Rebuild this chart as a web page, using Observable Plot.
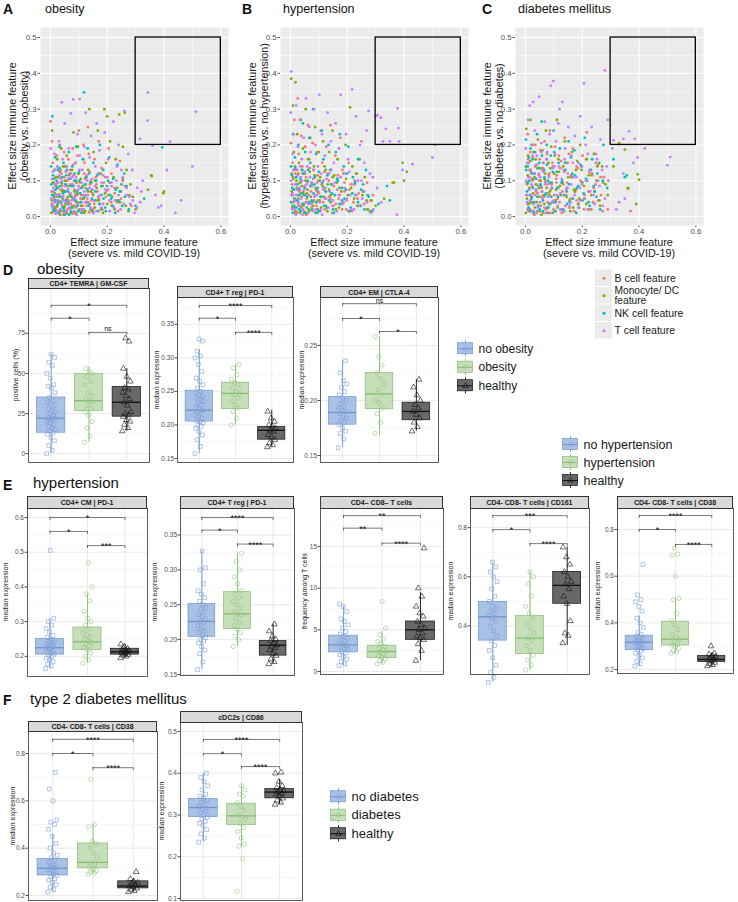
<!DOCTYPE html>
<html><head><meta charset="utf-8">
<script src="https://cdn.jsdelivr.net/npm/d3@7"></script>
<script src="https://cdn.jsdelivr.net/npm/@observablehq/plot@0.6"></script>
<style>
body{margin:0;background:#fff;font-family:"Liberation Sans",Arial,Helvetica,sans-serif;color:#111}
#root{position:relative;width:738px;height:902px;overflow:hidden;background:#fff}
.strip{position:absolute;background:#D9D9D9;border:0.8px solid #333;box-sizing:border-box;font-weight:bold;font-size:7px;text-align:center;color:#1a1a1a;white-space:nowrap;overflow:hidden}
.rot{position:absolute;transform:translate(-50%,-50%) rotate(-90deg);white-space:nowrap;text-align:center}
</style></head>
<body><div id="root"></div>
<script>
// ---------------- scatter data (thousandths: "x,y") ----------------
const featureLabels = ["B cell feature", "Monocyte/ DC", "NK cell feature", "T cell feature"];
const featureLabels2 = ["", "feature", "", ""];
const featureColors = ["#F8766D", "#7CAE00", "#00BFC4", "#C77CFF"];
const scatterXTicks = [0, 0.2, 0.4, 0.6];
const scatterYTicks = [0, 0.1, 0.2, 0.3, 0.4, 0.5];
const focusRegion = [{x1: 0.3, x2: 0.6, y1: 0.2, y2: 0.5}];

const obesityB = "0,266 5,210 8,150 12,95 15,40 18,20 22,170 25,110 28,60 30,15 33,200 36,130 40,75 42,30 45,5 48,180 52,140 55,90 58,50 60,20 63,160 66,115 70,65 72,35 75,10 78,190 80,145 83,100 86,55 90,25 92,5 95,170 98,120 100,240 103,328 106,80 110,40 113,15 116,200 120,150 122,105 125,60 128,30 132,250 135,175 138,125 140,90 145,45 150,20 155,160 160,110 165,70 170,210 175,35 180,135 188,95 195,55 205,190 215,120 225,80 235,40 245,155 255,100 270,60 285,30";
const obesityB2 = "4,35 7,12 10,70 13,48 16,88 19,8 21,55 24,28 27,95 31,62 34,42 37,18 39,120 41,85 44,58 46,25 49,110 51,70 53,38 56,12 59,100 62,75 64,45 67,22 69,130 71,90 73,55 77,30 79,8 82,115 85,75 88,42 91,100 94,60 97,35 100,15 104,95 109,60 114,30 119,120 124,80 130,50 136,12 142,100 148,65 154,35 162,90 171,50 182,20 193,110 203,75 214,40 226,65 238,15 249,50 262,85";
const obesityM = "3,10 6,240 9,60 14,130 17,25 20,85 24,160 27,40 31,110 34,5 38,190 41,70 44,140 47,15 51,100 54,35 57,170 62,55 67,120 71,10 76,85 81,235 85,30 89,150 93,65 97,195 102,20 107,105 111,50 115,160 119,10 124,90 129,40 133,130 137,300 142,70 147,15 152,180 157,100 162,45 167,240 172,120 178,20 184,85 190,300 196,150 200,280 204,60 210,210 216,30 222,110 230,160 236,45 242,285 248,70 255,195 262,290 268,130 275,15 282,90 290,55 300,20 344,75 357,113 355,115 397,65 400,70";
const obesityM2 = "5,45 8,95 11,20 16,65 19,110 23,30 26,80 29,55 33,125 36,15 40,92 43,50 46,72 50,28 53,140 57,8 60,85 63,40 66,105 69,60 73,25 76,130 80,48 84,70 88,10 92,95 95,40 99,120 103,65 108,30 113,85 117,50 122,15 127,110 132,70 138,35 144,95 150,60 156,25 163,80 170,45 177,120 185,10 192,65 200,35 208,95 217,55 226,20 235,80 245,40 255,105 265,30 278,60";
const obesityN = "2,140 5,60 7,280 10,20 13,105 16,165 19,45 23,80 26,130 29,10 32,195 35,55 39,95 43,25 46,150 50,5 53,70 56,115 61,35 65,180 69,85 73,15 77,140 82,50 87,100 91,195 96,30 101,125 105,65 109,10 114,160 118,347 121,90 126,40 131,190 136,120 141,20 146,75 151,150 156,45 161,100 168,15 174,200 180,60 186,130 193,25 199,85 207,165 214,50 221,105 228,10 236,145 244,70 252,30 260,120 268,85 276,20 300,30 330,50 394,193";
const obesityN2 = "3,90 6,30 9,115 12,55 15,15 18,75 22,100 25,35 28,60 31,135 34,85 38,40 42,110 45,65 48,20 52,90 55,45 58,130 62,70 66,5 70,105 74,55 78,25 81,85 85,120 89,45 93,70 97,15 102,100 106,40 111,80 116,20 120,55 125,110 130,75 135,30 140,95 146,50 152,10 158,70 165,115 172,35 179,85 187,50 195,15 203,100 211,60 220,30 230,75 240,45 250,90 262,55";
const obesityT = "1,190 4,70 8,125 11,30 14,175 17,90 21,10 24,140 27,60 30,210 34,20 37,105 40,319 43,160 47,45 50,260 54,125 57,15 61,75 64,190 68,35 72,288 76,110 80,327 84,50 88,150 91,5 95,230 99,85 103,170 108,20 112,130 116,60 120,195 124,290 129,100 133,40 138,165 143,225 148,75 152,10 158,140 163,260 168,55 173,185 179,25 185,115 191,235 197,70 203,160 209,15 215,95 222,265 228,45 234,140 240,200 247,20 254,110 260,295 267,60 274,175 281,35 288,130 296,10 305,80 315,217 316,40 325,100 342,268 343,347 359,198 370,60 380,25 390,30 410,130 421,209 440,10 460,45 500,140 512,293";
const obesityT2 = "2,50 5,105 8,25 10,80 13,40 16,130 19,60 22,92 25,15 28,45 31,115 35,75 38,35 41,98 45,55 48,10 52,85 55,40 58,140 62,105 65,25 69,65 72,120 75,45 79,90 83,15 86,60 90,110 94,35 98,75 102,130 106,50 110,95 115,20 119,70 123,40 128,115 132,60 137,80 142,25 147,105 152,45 157,85 163,15 168,120 174,60 180,95 186,35 193,75 200,110 207,45 215,85 223,25 232,100 240,60 250,130 258,35 268,80 278,55 290,45 305,25 320,70";

const hyperB = "2,205 5,90 8,150 11,40 14,270 17,120 20,60 23,10 26,330 29,175 32,95 35,30 38,225 42,140 45,70 48,15 52,195 55,110 58,50 62,255 66,160 70,85 74,25 78,205 82,130 86,60 90,10 94,180 98,100 103,45 107,240 112,150 116,75 121,20 126,195 131,120 136,55 141,255 146,90 152,30 158,170 164,105 170,50 176,220 183,130 190,70 197,20 205,150 213,90 222,40 231,120 240,65 250,210 260,35 270,95 282,45 290,60";
const hyperB2 = "3,60 6,25 9,110 12,75 15,10 18,45 21,90 24,130 27,35 31,70 34,15 37,100 40,55 43,120 46,30 50,85 53,60 56,5 60,95 64,40 68,135 72,70 76,20 80,105 84,45 88,80 92,30 96,115 100,65 105,15 110,90 115,40 120,125 125,70 130,25 135,100 141,50 147,10 153,85 160,35 167,115 174,60 182,20 190,95 198,45 207,75 216,15 226,100 236,50 247,30 258,70 270,20";
const hyperM = "3,385 4,120 7,60 9,310 12,180 15,25 18,375 21,100 24,230 27,50 30,150 34,10 37,270 40,85 44,190 47,35 51,120 54,300 58,65 62,160 66,15 70,220 74,95 78,40 83,140 87,250 91,75 96,20 100,180 105,110 110,55 115,210 120,140 125,30 131,90 136,180 142,60 148,240 154,115 160,20 166,160 173,80 180,35 187,120 194,200 202,60 210,305 218,140 226,90 235,30 244,160 253,60 262,110 272,20 285,45 300,30 330,50 360,95 365,95 395,150 400,100 410,125";
const hyperM2 = "4,70 7,30 10,105 13,50 16,140 19,15 22,80 25,45 28,120 32,60 35,95 38,25 42,130 45,65 49,10 53,100 56,40 60,75 64,20 68,125 72,55 76,90 80,30 85,115 89,10 94,70 98,45 103,100 108,25 113,85 118,55 124,130 130,15 136,75 142,40 149,110 156,60 163,95 171,25 179,70 187,40 196,105 205,15 214,80 224,50 234,120 245,30 256,70 268,45 280,15";
const hyperN = "2,140 6,80 9,230 13,30 16,165 20,110 24,45 28,200 32,75 36,15 40,130 44,260 48,60 52,180 57,25 61,100 66,220 70,150 75,45 80,300 85,90 90,175 95,10 100,125 105,55 111,240 116,160 122,80 128,25 134,200 140,130 146,65 153,10 160,180 167,100 174,230 181,45 188,140 196,75 204,195 212,25 220,110 229,60 238,160 247,30 256,90 266,130 276,55 288,15 310,35 340,85 350,45";
const hyperN2 = "2,40 5,115 8,10 11,75 14,50 17,135 21,25 25,90 28,60 31,20 35,105 38,65 42,35 46,120 50,80 54,10 58,55 62,130 67,40 71,85 76,20 81,65 86,110 91,40 96,80 101,15 107,55 112,95 118,30 124,70 130,115 136,45 143,90 150,20 157,60 165,105 173,35 181,80 190,50 199,120 208,15 218,65 228,95 238,40 249,75 260,20 272,60";
const hyperT = "1,290 3,405 5,60 8,175 11,230 14,20 17,130 20,310 23,75 26,195 29,40 33,270 36,110 40,160 43,5 47,220 51,85 55,330 59,140 63,35 67,250 71,180 75,95 80,15 84,300 88,200 93,60 97,140 102,340 107,20 111,230 116,100 121,170 126,50 131,290 137,120 142,210 148,30 153,150 159,260 165,75 171,190 177,340 183,40 190,120 196,230 203,160 210,60 217,355 224,20 231,280 238,100 245,200 253,50 260,150 268,240 275,295 283,10 290,110 300,280 306,283 318,276 326,210 336,245 350,210 375,5 377,302 380,247 383,210 395,130 430,146 500,165 510,200";
const hyperT2 = "2,100 5,20 8,65 10,130 13,45 16,90 19,5 22,60 25,115 28,30 31,80 34,140 37,50 41,100 44,20 48,75 51,125 55,40 58,90 62,10 65,60 69,110 73,35 77,85 81,130 85,55 89,20 94,95 98,70 103,40 108,120 112,5 117,80 122,50 127,105 133,25 138,70 144,130 150,45 156,95 163,15 170,60 177,110 184,35 191,80 199,50 207,125 215,20 223,90 232,60 241,30 250,100 260,70 270,40 280,120 292,20 305,80 320,40";

const diabB = "2,140 5,60 8,230 11,15 14,110 17,180 20,40 23,85 26,165 29,120 32,5 35,200 38,70 41,145 45,30 48,100 52,185 55,55 59,130 63,10 67,210 70,90 74,160 78,40 82,115 86,240 90,75 95,150 99,20 104,195 108,105 113,50 118,170 123,135 128,10 133,90 138,220 143,60 149,150 155,25 161,115 167,190 173,70 180,140 187,35 194,100 201,170 208,60 216,235 224,125 232,20 240,80 248,150 256,45 264,110 272,15 290,20 370,15";
const diabB2 = "4,95 7,35 10,160 13,75 16,20 19,125 22,55 25,100 28,180 31,40 34,140 37,90 40,10 43,65 47,115 50,160 54,30 57,80 61,135 65,55 69,100 72,20 76,175 80,65 84,120 88,35 92,90 97,140 101,60 106,15 110,115 115,80 120,40 125,155 130,70 136,125 141,30 147,95 153,175 159,50 165,110 171,15 178,75 185,135 192,45 199,95 206,20 214,160 222,70 230,120 238,40 247,90 256,145 266,60 276,110";
const diabM = "1,10 3,245 6,90 9,170 12,35 15,130 18,270 22,55 25,200 28,15 32,110 36,160 40,40 44,215 48,80 52,135 56,5 60,185 64,60 68,105 72,240 77,25 81,150 86,70 91,195 96,10 101,120 106,45 111,270 116,160 121,85 127,20 133,140 139,210 145,55 151,110 158,15 164,180 171,75 178,130 185,35 193,200 200,95 208,50 216,160 225,20 234,115 243,70 253,140 263,30 274,95 290,60 310,140 330,205 350,187 360,80 362,78 390,35 395,118 400,103";
const diabM2 = "2,140 5,50 8,115 11,20 14,80 17,155 21,40 24,105 27,65 30,180 34,25 38,90 42,135 46,55 50,15 54,100 58,70 62,150 66,35 70,120 75,80 79,10 84,60 88,135 93,95 98,40 103,170 108,75 113,25 118,125 124,60 130,95 136,15 142,150 148,80 155,45 161,110 168,25 175,70 182,155 190,50 198,130 206,85 214,35 223,115 232,60 241,175 250,100 260,45 270,140 282,90";
const diabN = "2,215 5,70 8,140 11,25 14,100 18,190 21,50 25,160 29,10 33,120 37,75 41,230 45,30 49,150 53,90 57,265 61,15 66,130 70,60 75,200 79,100 84,35 89,170 94,80 99,240 104,15 110,125 115,55 121,190 127,95 133,20 139,150 145,70 152,210 158,40 165,120 172,185 179,10 186,85 194,145 201,45 209,220 217,100 226,30 235,160 244,70 253,120 263,20 275,200 288,80 310,160 350,110 357,115";
const diabN2 = "3,130 6,40 9,95 12,165 15,60 18,15 22,120 26,80 30,40 34,180 38,105 42,55 46,135 50,20 54,85 58,170 62,45 67,110 72,65 76,145 81,25 86,95 91,55 96,125 101,180 106,40 112,80 117,150 123,20 129,100 135,60 141,130 147,35 154,90 160,165 167,50 174,115 181,80 189,25 197,140 205,65 213,105 222,40 231,130 240,85 250,55 260,150 272,100";
const diabT = "1,190 3,100 6,40 9,270 12,150 15,310 18,60 21,200 24,15 27,320 30,120 33,240 37,75 40,170 44,25 48,335 52,110 56,205 60,50 64,150 68,265 72,10 76,180 80,90 85,230 89,365 93,40 98,378 102,140 107,210 111,60 116,260 120,300 125,20 130,320 135,130 140,190 145,80 151,250 156,30 162,170 168,110 174,225 180,45 187,150 193,280 199,90 206,372 212,200 219,20 226,130 233,250 240,60 248,175 256,100 264,215 272,30 280,408 286,140 290,270 306,190 310,213 320,20 330,40 345,217 345,120 350,50 365,238 380,150 385,217 395,165 420,190 500,143 510,166";
const diabT2 = "2,60 5,150 7,20 10,110 13,75 16,45 19,130 22,90 25,170 28,35 31,105 34,60 38,145 41,15 45,85 48,120 52,40 56,180 59,70 63,125 67,25 71,95 75,160 79,55 83,110 87,10 92,80 96,135 100,45 105,175 109,95 114,30 118,140 123,65 128,105 133,15 138,160 144,75 149,120 155,40 161,90 167,150 173,60 179,110 186,25 192,80 199,140 206,50 213,100 220,175 228,70 236,120 244,35 252,160 261,85 270,130 280,50 292,100";

// ---------------- box plot data ----------------
// stats per group: [lower whisker, q1, median, q3, upper whisker]
const d1No = [0,2,5,8,10,12,13,14,15,16,17,18,19,20,21,21,22,22,23,24,25,26,27,28,30,31,32,33,35,38,41,42,43,47,50,55,57,60,62];
const d1Ob = [7,11,16,20,24,26,28,30,32,33,34,36,38,43,45,48,50,51,53];
const d1H  = [14,16,18,20,21,23,24,25,26,30,32,34,36,38,40,41,45,48,53,70,72];
const d1Stats = [[0,13,22,35,62],[7,26.5,33,49.5,54],[14,23,32,41.5,53]];
const d1Sig = [[1,3,92.5,"*"],[1,2,84.4,"*"],[2,3,75.6,"ns"]];

const d2No = [.157,.168,.178,.185,.19,.195,.198,.2,.203,.205,.207,.21,.212,.215,.218,.22,.222,.225,.228,.23,.232,.235,.238,.24,.243,.245,.248,.25,.255,.26,.265,.27,.28,.29,.3,.303,.31,.325,.328];
const d2Ob = [.2,.21,.22,.225,.23,.235,.24,.245,.247,.25,.255,.26,.263,.268,.275,.285,.29];
const d2H  = [.167,.17,.173,.178,.182,.185,.19,.192,.195,.198,.2,.205,.21,.22];
const d2Stats = [[.157,.205,.222,.251,.312],[.2,.224,.247,.263,.29],[.167,.178,.192,.197,.222]];
const d2Sig = [[1,3,.378,"****"],[1,2,.359,"*"],[2,3,.338,"****"]];

const d3No = [.157,.165,.17,.172,.175,.178,.18,.182,.184,.186,.188,.19,.191,.193,.195,.197,.2,.202,.205,.208,.212,.215,.218,.225,.236];
const d3Ob = [.17,.18,.188,.193,.198,.2,.205,.21,.215,.22,.225,.232,.24,.258];
const d3H  = [.172,.176,.18,.184,.187,.19,.193,.196,.2,.205,.212,.219];
const d3Stats = [[.157,.178,.189,.203,.236],[.168,.192,.206,.225,.258],[.172,.182,.19,.198,.219]];
const d3Sig = [[1,3,.288,"ns"],[1,2,.2745,"*"],[2,3,.2627,"*"]];

const e1No = [.165,.172,.178,.185,.19,.195,.2,.203,.206,.21,.213,.216,.22,.222,.225,.227,.23,.233,.236,.24,.243,.246,.25,.255,.26,.27,.28,.29,.3,.31,.505];
const e1Hy = [.18,.19,.2,.21,.218,.225,.23,.235,.24,.245,.25,.255,.262,.27,.28,.29,.3,.31,.33,.36,.38,.40,.47];
const e1H  = [.195,.2,.203,.205,.207,.21,.212,.214,.216,.218,.22,.222,.228,.235];
const e1Stats = [[.165,.205,.225,.25,.31],[.18,.218,.242,.283,.38],[.195,.205,.213,.222,.235]];
const e1Sig = [[1,3,.6,"*"],[1,2,.56,"*"],[2,3,.519,"***"]];

const e2No = [.157,.168,.18,.185,.19,.195,.198,.2,.203,.206,.21,.213,.216,.22,.224,.226,.23,.233,.236,.24,.243,.246,.25,.255,.26,.265,.27,.28,.3,.303,.327];
const e2Hy = [.19,.2,.205,.21,.215,.22,.225,.23,.235,.237,.24,.245,.25,.255,.26,.265,.27,.28,.29,.3,.312,.324];
const e2H  = [.165,.168,.172,.177,.18,.185,.188,.19,.192,.195,.198,.2,.205,.212,.222];
const e2Stats = [[.157,.204,.226,.251,.327],[.19,.215,.237,.268,.324],[.165,.177,.192,.198,.222]];
const e2Sig = [[1,3,.375,"****"],[1,2,.357,"*"],[2,3,.337,"****"]];

const e3No = [.7,.9,1.2,1.5,1.8,2,2.2,2.4,2.6,2.8,3,3.1,3.2,3.4,3.6,3.8,4,4.2,4.5,4.8,5.2,5.6,6,6.3,7.2,7.8,8.1];
const e3Hy = [.9,1.1,1.3,1.5,1.7,1.9,2.1,2.3,2.4,2.6,2.8,3,3.3,3.6,3.9,4.4,5.2,8.4];
const e3H  = [1.3,2.5,3.3,3.8,4,4.2,4.6,5,5.2,5.6,6,6.6,7,7.8,9,10,14.8];
const e3Stats = [[.7,2.3,3.2,4.3,7.8],[.9,1.6,2.4,3.1,4.8],[1.3,3.8,5,6,9.5]];
const e3Sig = [[1,3,18.7,"**"],[1,2,17.2,"**"],[2,3,15.4,"****"]];

const e4No = [.17,.19,.21,.24,.27,.3,.32,.34,.36,.38,.4,.42,.43,.44,.45,.46,.47,.48,.5,.52,.55,.58,.6,.62,.64,.66];
const e4Hy = [.22,.24,.26,.28,.3,.32,.34,.35,.37,.39,.41,.43,.45,.48,.52,.57,.6,.62];
const e4H  = [.33,.36,.37,.42,.49,.52,.55,.57,.58,.6,.62,.65,.68,.72];
const e4Stats = [[.17,.34,.437,.498,.66],[.22,.285,.35,.44,.62],[.32,.49,.565,.62,.72]];
const e4Sig = [[1,3,.849,"***"],[1,2,.792,"*"],[2,3,.735,"****"]];

const e5No = [.215,.225,.235,.25,.26,.27,.28,.285,.29,.295,.3,.305,.31,.315,.32,.325,.33,.335,.34,.35,.36,.38,.4,.42,.45,.47,.49,.5,.52,.65];
const e5Hy = [.27,.275,.28,.29,.3,.305,.31,.32,.33,.34,.35,.37,.39,.41,.44,.5,.505,.6,.69,.695,.72];
const e5H  = [.215,.22,.225,.23,.235,.24,.245,.25,.255,.26,.265,.27,.3];
const e5Stats = [[.215,.283,.317,.345,.43],[.27,.303,.33,.405,.505],[.215,.232,.243,.258,.27]];
const e5Sig = [[1,3,.86,"****"],[1,2,.8,"*"],[2,3,.736,"****"]];

const f1No = [.215,.225,.235,.245,.255,.265,.27,.28,.285,.29,.295,.3,.305,.31,.315,.32,.325,.33,.34,.35,.36,.37,.38,.4,.42,.45,.48,.5,.51,.52,.6,.65,.72];
const f1Di = [.29,.295,.3,.305,.31,.32,.33,.34,.36,.38,.4,.42,.43,.49,.5,.69];
const f1H  = [.215,.22,.225,.23,.235,.24,.245,.25,.255,.26,.27,.3];
const f1Stats = [[.215,.285,.315,.355,.455],[.29,.315,.34,.42,.5],[.215,.23,.24,.26,.27]];
const f1Sig = [[1,3,.86,"****"],[1,2,.8,"*"],[2,3,.74,"****"]];

const f2No = [.235,.245,.255,.265,.275,.28,.285,.29,.295,.3,.305,.31,.315,.32,.325,.33,.335,.34,.345,.35,.36,.37,.38,.39,.4];
const f2Di = [.117,.195,.225,.23,.245,.26,.27,.28,.29,.295,.3,.31,.32,.33,.345,.35,.36,.37];
const f2H  = [.325,.33,.335,.34,.345,.35,.352,.355,.358,.36,.365,.37,.38,.4,.402];
const f2Stats = [[.235,.295,.318,.338,.4],[.225,.276,.298,.327,.37],[.325,.34,.355,.362,.385]];
const f2Sig = [[1,3,.481,"****"],[1,2,.447,"*"],[2,3,.416,"****"]];

const obesityLegend = ["no obesity", "obesity", "healthy"];
const hyperLegend = ["no hypertension", "hypertension", "healthy"];
const diabLegend = ["no diabetes", "diabetes", "healthy"];

// ---------------- styling ----------------
const FONT = '"Liberation Sans", Arial, Helvetica, sans-serif';
const grpFill = ["#AAC1E6", "#C7DEBA", "#686868"];
const grpStroke = ["#6F93CF", "#88BC72", "#111111"];
const ptStroke = ["#7FA0D8", "#92C480", "#111111"];
const grpSymbol = ["square", "circle", "triangle"];

const root = document.getElementById("root");
function addDiv(html, css, cls) {
  const d = document.createElement("div");
  if (cls) d.className = cls;
  d.innerHTML = html;
  d.style.cssText += ";position:absolute;" + css;
  root.appendChild(d);
  return d;
}
function addSvg(svg, left, top) {
  svg.style.position = "absolute";
  svg.style.left = left + "px";
  svg.style.top = top + "px";
  root.appendChild(svg);
}

// ---------------- scatter panels ----------------
function parsePts(str, cat) {
  return str.trim().split(/\s+/).map(p => {
    const [a, b] = p.split(",").map(Number);
    return {x: a / 1000, y: b / 1000, cat};
  });
}
function scatterPanel(left, series) {
  const pts = series.flatMap((s, i) => parsePts(s, i));
  const xMinor = [0.1, 0.3, 0.5], yMinor = [0.05, 0.15, 0.25, 0.35, 0.45];
  const svg = Plot.plot({
    width: 240, height: 262, marginLeft: 40, marginRight: 12, marginTop: 27, marginBottom: 37,
    x: {domain: [-0.035, 0.627], ticks: scatterXTicks, tickFormat: d3.format(".1f"), tickSize: 2, tickPadding: 0.5, label: null},
    y: {domain: [-0.025, 0.528], ticks: scatterYTicks, tickFormat: d3.format(".1f"), tickSize: 2.5, tickPadding: 1.5, label: null},
    color: {type: "identity"},
    style: {fontFamily: FONT, fontSize: "7.8px", color: "#4D4D4D", background: "transparent", overflow: "visible"},
    marks: [
      Plot.frame({fill: "#EBEBEB", stroke: "none"}),
      Plot.ruleX(xMinor, {stroke: "#fff", strokeWidth: 0.5}),
      Plot.ruleY(yMinor, {stroke: "#fff", strokeWidth: 0.5}),
      Plot.ruleX(scatterXTicks, {stroke: "#fff", strokeWidth: 1}),
      Plot.ruleY(scatterYTicks, {stroke: "#fff", strokeWidth: 1}),
      Plot.dot(pts, {x: "x", y: "y", fill: d => featureColors[d.cat], r: 1.4}),
      Plot.rect(focusRegion, {x1: "x1", x2: "x2", y1: "y1", y2: "y2", fill: "none", stroke: "#000", strokeWidth: 1.3})
    ]
  });
  addSvg(svg, left, 0);
}
scatterPanel(0, [obesityB + " " + obesityB2, obesityM + " " + obesityM2, obesityN + " " + obesityN2, obesityT + " " + obesityT2]);
scatterPanel(240, [hyperB + " " + hyperB2, hyperM + " " + hyperM2, hyperN + " " + hyperN2, hyperT + " " + hyperT2]);
scatterPanel(475, [diabB + " " + diabB2, diabM + " " + diabM2, diabN + " " + diabN2, diabT + " " + diabT2]);

const tagCss = "font-weight:bold;font-size:14px;line-height:14px;";
addDiv("A", "left:3px;top:2px;" + tagCss);
addDiv("obesity", "left:45px;top:2px;font-size:12.5px;line-height:14px;");
addDiv("B", "left:242px;top:2px;" + tagCss);
addDiv("hypertension", "left:283px;top:2px;font-size:12.5px;line-height:14px;");
addDiv("C", "left:482px;top:2px;" + tagCss);
addDiv("diabetes mellitus", "left:518px;top:2px;font-size:12.5px;line-height:14px;");

const yTitles = ["(obesity vs. no obesity)", "(hypertension vs. no hypertension)", "(Diabetes vs. no diabetes)"];
[[18, 0], [258, 1], [493, 2]].forEach(([cx, k]) => {
  addDiv("Effect size immune feature<br>" + yTitles[k], `left:${cx}px;top:126px;font-size:10.8px;line-height:11.5px;color:#1a1a1a;`, "rot");
});
[134, 374, 609].forEach(cx => {
  addDiv("Effect size immune feature<br>(severe vs. mild COVID-19)", `left:${cx - 90}px;top:236.5px;width:180px;text-align:center;font-size:10.8px;line-height:11.5px;color:#1a1a1a;`);
});

// scatter legend
(function () {
  const rows = featureLabels.map((label, i) => ({i, label, label2: featureLabels2[i]}));
  const rowH = 17.5;
  const one = rows.filter(d => !d.label2), two = rows.filter(d => d.label2);
  const svg = Plot.plot({
    width: 150, height: rows.length * rowH, marginLeft: 0, marginRight: 0, marginTop: 0, marginBottom: 0,
    x: {domain: [0, 150], range: [0, 150], axis: null},
    y: {domain: [0, rows.length], range: [0, rows.length * rowH], axis: null},
    color: {type: "identity"},
    style: {fontFamily: FONT, background: "transparent", overflow: "visible"},
    marks: [
      Plot.rect(rows, {x1: 0, x2: 17, y1: d => d.i + 0.03, y2: d => d.i + 0.97, fill: "#EBEBEB"}),
      Plot.dot(rows, {x: 8.5, y: d => d.i + 0.5, fill: d => featureColors[d.i], r: 1.6}),
      Plot.text(one, {x: 19, y: d => d.i + 0.5, text: "label", textAnchor: "start", fontSize: 10.5, fill: "#1a1a1a"}),
      Plot.text(two, {x: 19, y: d => d.i + 0.5, text: "label", textAnchor: "start", dy: -4.6, fontSize: 10.2, fill: "#1a1a1a"}),
      Plot.text(two, {x: 19, y: d => d.i + 0.5, text: "label2", textAnchor: "start", dy: 4.8, fontSize: 10.2, fill: "#1a1a1a"})
    ]
  });
  addSvg(svg, 595, 269);
})();

// ---------------- box facets ----------------
const jit = i => (((i * 0.6180339887) % 1) - 0.5) * 0.24;
function boxFacet(c) {
  const ML = 30, MR = 1, MT = 1, MB = 1;
  const pw = c.px[1] - c.px[0], ph = c.py[1] - c.py[0];
  const span = c.dom[1] - c.dom[0], drop = 3 * span / ph;
  const step = c.ticks[1] - c.ticks[0];
  const minor = c.ticks.map(t => t - step / 2).concat([c.ticks[c.ticks.length - 1] + step / 2])
    .filter(v => v > c.dom[0] && v < c.dom[1]);
  const boxes = c.stats.map((s, i) => ({g: i + 1, lo: s[0], q1: s[1], med: s[2], q3: s[3], hi: s[4]}));
  const sig = c.sig.map(([a, b, h, label]) => ({a, b, h, label}));
  const marks = [
    Plot.ruleY(minor, {stroke: "#F0F0F0", strokeWidth: 0.5}),
    Plot.ruleY(c.ticks, {stroke: "#E4E4E4", strokeWidth: 0.8}),
    Plot.ruleX([1, 2, 3], {stroke: "#E4E4E4", strokeWidth: 0.8})
  ];
  boxes.forEach((b, gi) => {
    marks.push(
      Plot.ruleX([b], {x: "g", y1: "lo", y2: "hi", stroke: grpStroke[gi], strokeWidth: 0.9}),
      Plot.rect([b], {x1: d => d.g - 0.375, x2: d => d.g + 0.375, y1: "q1", y2: "q3", fill: grpFill[gi], stroke: grpStroke[gi], strokeWidth: 0.7}),
      Plot.ruleY([b], {y: "med", x1: d => d.g - 0.375, x2: d => d.g + 0.375, stroke: grpStroke[gi], strokeWidth: 1.3})
    );
  });
  c.groups.forEach((vals, gi) => {
    const pts = vals.map((v, i) => ({x: gi + 1 + jit(i), y: v}));
    marks.push(Plot.dot(pts, {x: "x", y: "y", symbol: grpSymbol[gi], stroke: ptStroke[gi], fill: "none", r: 2.1, strokeWidth: 0.6}));
  });
  marks.push(
    Plot.ruleY(sig, {y: "h", x1: "a", x2: "b", stroke: "#222", strokeWidth: 0.6}),
    Plot.ruleX(sig, {x: "a", y1: "h", y2: d => d.h - drop, stroke: "#222", strokeWidth: 0.6}),
    Plot.ruleX(sig, {x: "b", y1: "h", y2: d => d.h - drop, stroke: "#222", strokeWidth: 0.6}),
    Plot.text(sig.filter(d => d.label !== "ns"), {x: d => (d.a + d.b) / 2, y: "h", text: "label", fontSize: 9, lineAnchor: "bottom", dy: 3.5, fill: "#111"}),
    Plot.text(sig.filter(d => d.label === "ns"), {x: d => (d.a + d.b) / 2, y: "h", text: "label", fontSize: 7, lineAnchor: "bottom", dy: -1, fill: "#111"}),
    Plot.frame({stroke: "#333", strokeWidth: 0.8})
  );
  const svg = Plot.plot({
    width: pw + ML + MR, height: ph + MT + MB, marginLeft: ML, marginRight: MR, marginTop: MT, marginBottom: MB,
    x: {domain: [0.4, 3.6], axis: null},
    y: {domain: c.dom, ticks: c.ticks, tickFormat: d3.format(c.fmt), tickSize: 2.5, tickPadding: 1, label: null},
    style: {fontFamily: FONT, fontSize: "6.5px", color: "#4D4D4D", background: "transparent", overflow: "visible"},
    marks
  });
  addSvg(svg, c.px[0] - ML, c.py[0] - MT);
  addDiv(c.title, `left:${c.px[0]}px;top:${c.strip}px;width:${pw}px;height:${c.py[0] - c.strip + 0.5}px;line-height:${c.py[0] - c.strip}px;`, "strip");
  addDiv(c.ylab, `left:${c.ylabX}px;top:${(c.py[0] + c.py[1]) / 2}px;font-size:7px;color:#222;`, "rot");
}

const fac = [
  {title: "CD4+ TEMRA | GM-CSF", px: [28, 149], py: [288, 462], strip: 278, dom: [-5.6, 103], ticks: [0, 25, 50, 75], fmt: "d", groups: [d1No, d1Ob, d1H], stats: d1Stats, sig: d1Sig, ylab: "positive cells (%)", ylabX: 15},
  {title: "CD4+ T reg | PD-1", px: [177, 293], py: [297, 462], strip: 286, dom: [0.144, 0.390], ticks: [.15, .2, .25, .3, .35], fmt: ".2f", groups: [d2No, d2Ob, d2H], stats: d2Stats, sig: d2Sig, ylab: "median expression", ylabX: 156},
  {title: "CD4+ EM | CTLA-4", px: [320, 438], py: [297, 462], strip: 286, dom: [0.1436, 0.2936], ticks: [.15, .2, .25], fmt: ".2f", groups: [d3No, d3Ob, d3H], stats: d3Stats, sig: d3Sig, ylab: "median expression", ylabX: 301},
  {title: "CD4+ CM | PD-1", px: [27, 147], py: [508, 676], strip: 496, dom: [0.142, 0.626], ticks: [.2, .3, .4, .5, .6], fmt: ".1f", groups: [e1No, e1Hy, e1H], stats: e1Stats, sig: e1Sig, ylab: "median expression", ylabX: 5},
  {title: "CD4+ T reg | PD-1", px: [180, 294], py: [508, 675], strip: 496, dom: [0.1485, 0.388], ticks: [.15, .2, .25, .3, .35], fmt: ".2f", groups: [e2No, e2Hy, e2H], stats: e2Stats, sig: e2Sig, ylab: "median expression", ylabX: 154},
  {title: "CD4– CD8– T cells", px: [320, 443], py: [508, 674], strip: 496, dom: [-0.36, 19.56], ticks: [0, 5, 10, 15], fmt: "d", groups: [e3No, e3Hy, e3H], stats: e3Stats, sig: e3Sig, ylab: "frequency among T cells", ylabX: 304},
  {title: "CD4- CD8- T cells | CD161", px: [470, 589], py: [508, 674], strip: 496, dom: [0.202, 0.878], ticks: [.4, .6, .8], fmt: ".1f", groups: [e4No, e4Hy, e4H], stats: e4Stats, sig: e4Sig, ylab: "median expression", ylabX: 450},
  {title: "CD4- CD8- T cells | CD38", px: [617, 733], py: [508, 673], strip: 496, dom: [0.183, 0.89], ticks: [.2, .4, .6, .8], fmt: ".1f", groups: [e5No, e5Hy, e5H], stats: e5Stats, sig: e5Sig, ylab: "median expression", ylabX: 597},
  {title: "CD4- CD8- T cells | CD38", px: [28, 157], py: [731, 900], strip: 721, dom: [0.179, 0.893], ticks: [.2, .4, .6, .8], fmt: ".1f", groups: [f1No, f1Di, f1H], stats: f1Stats, sig: f1Sig, ylab: "median expression", ylabX: 12},
  {title: "cDC2s | CD86", px: [180, 302], py: [722, 900], strip: 711, dom: [0.0952, 0.5216], ticks: [.1, .2, .3, .4, .5], fmt: ".1f", groups: [f2No, f2Di, f2H], stats: f2Stats, sig: f2Sig, ylab: "median expression", ylabX: 161}
];
fac.forEach(boxFacet);

// section titles
addDiv("D", "left:3px;top:263px;" + tagCss);
addDiv("obesity", "left:37px;top:260px;font-size:15px;line-height:17px;");
addDiv("E", "left:3px;top:478px;" + tagCss);
addDiv("hypertension", "left:33px;top:474px;font-size:15px;line-height:17px;");
addDiv("F", "left:3px;top:693px;" + tagCss);
addDiv("type 2 diabetes mellitus", "left:30px;top:690px;font-size:15px;line-height:17px;");

// ---------------- box legends ----------------
function boxLegend(labels, left, top, rowH, fontSize) {
  const rows = labels.map((label, i) => ({i, label}));
  const marks = [];
  rows.forEach((r, i) => {
    const d = [r];
    marks.push(
      Plot.ruleX(d, {x: 8, y1: r.i + 0.06, y2: r.i + 0.94, stroke: grpStroke[i], strokeWidth: 0.9}),
      Plot.rect(d, {x1: 0.5, x2: 15.5, y1: r.i + 0.2, y2: r.i + 0.8, fill: grpFill[i], stroke: grpStroke[i], strokeWidth: 0.7}),
      Plot.ruleY(d, {y: r.i + 0.5, x1: 0.5, x2: 15.5, stroke: grpStroke[i], strokeWidth: 1}),
      Plot.dot(d, {x: 8, y: r.i + 0.5, symbol: grpSymbol[i], stroke: ptStroke[i], fill: "none", r: 2.1, strokeWidth: 0.6})
    );
  });
  marks.push(Plot.text(rows, {x: 21, y: d => d.i + 0.5, text: "label", textAnchor: "start", fontSize, fill: "#1a1a1a"}));
  const svg = Plot.plot({
    width: 160, height: rows.length * rowH, marginLeft: 0, marginRight: 0, marginTop: 0, marginBottom: 0,
    x: {domain: [0, 160], range: [0, 160], axis: null},
    y: {domain: [0, rows.length], range: [0, rows.length * rowH], axis: null},
    style: {fontFamily: FONT, background: "transparent", overflow: "visible"},
    marks
  });
  addSvg(svg, left, top);
}
boxLegend(obesityLegend, 457, 339, 18.5, 12);
boxLegend(hyperLegend, 562, 435, 18, 12.5);
boxLegend(diabLegend, 330, 787, 18.5, 13);
</script></body></html>
